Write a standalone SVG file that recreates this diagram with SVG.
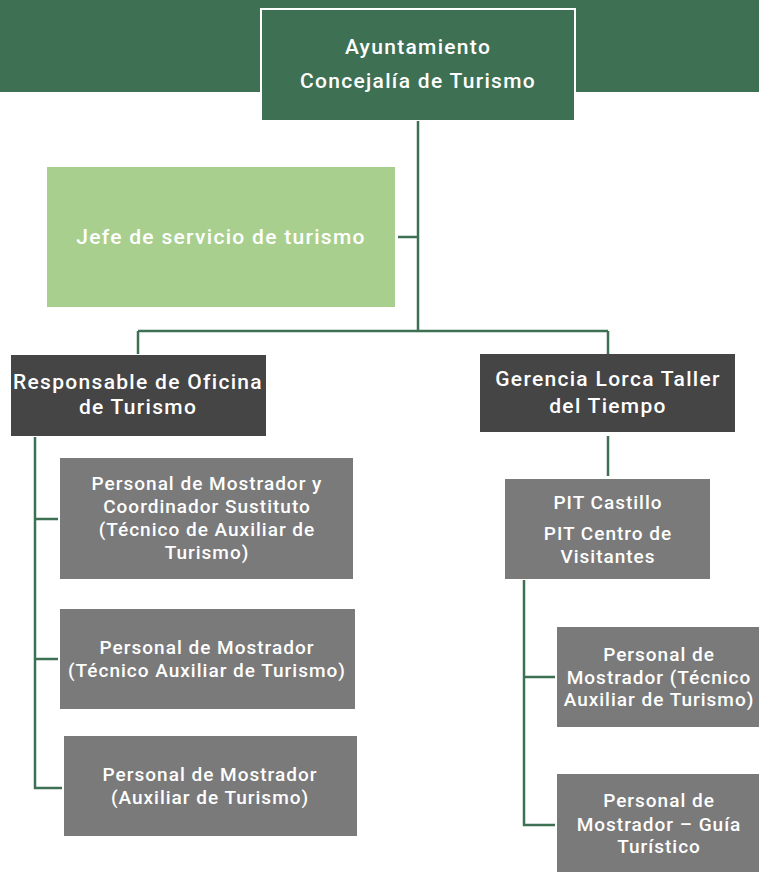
<svg xmlns="http://www.w3.org/2000/svg" width="759" height="872" viewBox="0 0 759 872">
<style>
text{font-family:Roboto,"Liberation Sans",sans-serif;fill:#ffffff;text-anchor:middle;font-size:19px;letter-spacing:1px;font-weight:500}
.big{font-size:21px;letter-spacing:1.3px}
.c{fill:none;stroke:#3e7053;stroke-width:2.5}
.dark{fill:#454545}
.grey{fill:#7a7a7a}
</style>
<rect x="0" y="0" width="759" height="92" fill="#3e7053"/>
<g id="n-top">
<rect x="261" y="9" width="314" height="112" fill="#3e7053" stroke="#ffffff" stroke-width="2"/>
<text class="big" x="418" y="54">Ayuntamiento</text>
<text class="big" x="418" y="88">Concejalía de Turismo</text>
</g>
<g id="connectors">
<path class="c" d="M418 121V331M398 237H418M138 331H608M138 331V354M608 331V354"/>
<path class="c" d="M608 436V476"/>
<path class="c" d="M35 437V788H62M35 519H58M35 659H58"/>
<path class="c" d="M524 580V825H555M524 677H555"/>
</g>
<g id="n-jefe">
<rect x="47" y="167" width="348" height="140" fill="#a9cf8e"/>
<text class="big" x="221" y="244">Jefe de servicio de turismo</text>
</g>
<g id="n-resp">
<rect x="11" y="355" width="255" height="81" class="dark"/>
<text class="big" x="138" y="389">Responsable de Oficina</text>
<text class="big" x="138" y="414">de Turismo</text>
</g>
<g id="n-ger">
<rect x="480" y="354" width="255" height="78" class="dark"/>
<text class="big" x="608" y="386">Gerencia Lorca Taller</text>
<text class="big" x="608" y="413">del Tiempo</text>
</g>
<g id="n-pit">
<rect x="505" y="479" width="205" height="100" class="grey"/>
<text x="608" y="509">PIT Castillo</text>
<text x="608" y="540">PIT Centro de</text>
<text x="608" y="563">Visitantes</text>
</g>
<g id="n-p1">
<rect x="60" y="458" width="293" height="121" class="grey"/>
<text x="207" y="490">Personal de Mostrador y</text>
<text x="207" y="513">Coordinador Sustituto</text>
<text x="207" y="536">(Técnico de Auxiliar de</text>
<text x="207" y="559">Turismo)</text>
</g>
<g id="n-p2">
<rect x="60" y="609" width="295" height="100" class="grey"/>
<text x="207" y="654">Personal de Mostrador</text>
<text x="207" y="677">(Técnico Auxiliar de Turismo)</text>
</g>
<g id="n-p3">
<rect x="64" y="736" width="293" height="100" class="grey"/>
<text x="210" y="781">Personal de Mostrador</text>
<text x="210" y="804">(Auxiliar de Turismo)</text>
</g>
<g id="n-p4">
<rect x="557" y="627" width="205" height="100" class="grey"/>
<text x="659" y="661">Personal de</text>
<text x="659" y="684">Mostrador (Técnico</text>
<text x="659" y="706">Auxiliar de Turismo)</text>
</g>
<g id="n-p5">
<rect x="557" y="774" width="205" height="100" class="grey"/>
<text x="659" y="807">Personal de</text>
<text x="659" y="831">Mostrador – Guía</text>
<text x="659" y="853">Turístico</text>
</g>
</svg>
